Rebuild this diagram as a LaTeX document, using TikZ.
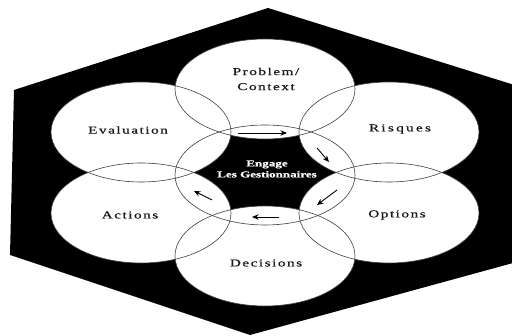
\documentclass[tikz,border=0pt]{standalone}
\usepackage{graphicx}
\usepackage{fontspec}
\setmainfont{Liberation Serif}
\usetikzlibrary{shapes.geometric,arrows.meta}
\newcommand{\widetxt}[2][10]{\scalebox{1.45}[1]{\addfontfeature{LetterSpace=#1,FakeBold=0.6}#2}}
\tikzset{
  bubble/.style={ellipse, fill=white, inner sep=0pt, minimum width=180pt, minimum height=100pt},
  hub/.style={ellipse, inner sep=0pt, minimum width=180pt, minimum height=100pt},
  rim/.style={draw=black!75, line width=0.6pt},
  lbl/.style={font=\fontsize{10.5}{15}\selectfont, text=black!90, inner sep=0pt, align=center},
  hubtxt/.style={font=\fontsize{9}{11}\selectfont\bfseries, text=white, inner sep=0pt, align=center},
  flow/.style={-{Stealth[length=6.5pt,width=5.5pt]}, line width=0.9pt, draw=black}
}
\begin{document}
\begin{tikzpicture}[x=1pt,y=-1pt]
\useasboundingbox (0,0) rectangle (512,336);
\clip (0,0) rectangle (512,336);
% hexagon background
\fill[black] (268,8) -- (524,88) -- (524,260) -- (250,335) -- (10,255) -- (14,90) -- cycle;
% ellipses
\node[hub] (C) at (265,175) {};
\node[bubble] (P) at (265,89) {};
\node[bubble] (E) at (141,132) {};
\node[bubble] (R) at (389,132) {};
\node[bubble] (A) at (141,213) {};
\node[bubble] (O) at (389,213) {};
\node[bubble] (D) at (265,256) {};
\foreach \n in {P,E,R,C,A,O,D}
  \draw[rim] (\n.center) ellipse [x radius=90pt, y radius=50pt];
% labels
\node[lbl] (tP) at (266,79) {\widetxt{Problem/}\\\widetxt{Context}};
\node[lbl] (tE) at (128,130) {\widetxt{Evaluation}};
\node[lbl] (tR) at (400,129) {\widetxt[15]{Risques}};
\node[lbl] (tA) at (130,215) {\widetxt{Actions}};
\node[lbl] (tO) at (397,215) {\widetxt{Options}};
\node[lbl] (tD) at (266,263) {\widetxt{Decisions}};
\node[hubtxt] (tC) at (267,169) {\widetxt[0]{Engage}\\\widetxt[0]{Les Gestionnaires}};
% arrows
\coordinate (a1s) at (238,133); \coordinate (a1e) at (287,133);
\coordinate (a2s) at (317,148); \coordinate (a2e) at (329,162);
\coordinate (a3s) at (337,190); \coordinate (a3e) at (317,205);
\coordinate (a4s) at (279,217); \coordinate (a4e) at (252,217);
\coordinate (a5s) at (212,200); \coordinate (a5e) at (194,191);
\draw[flow] (a1s) -- (a1e);
\draw[flow] (a2s) -- (a2e);
\draw[flow] (a3s) -- (a3e);
\draw[flow] (a4s) -- (a4e);
\draw[flow] (a5s) -- (a5e);
\end{tikzpicture}
\end{document}
